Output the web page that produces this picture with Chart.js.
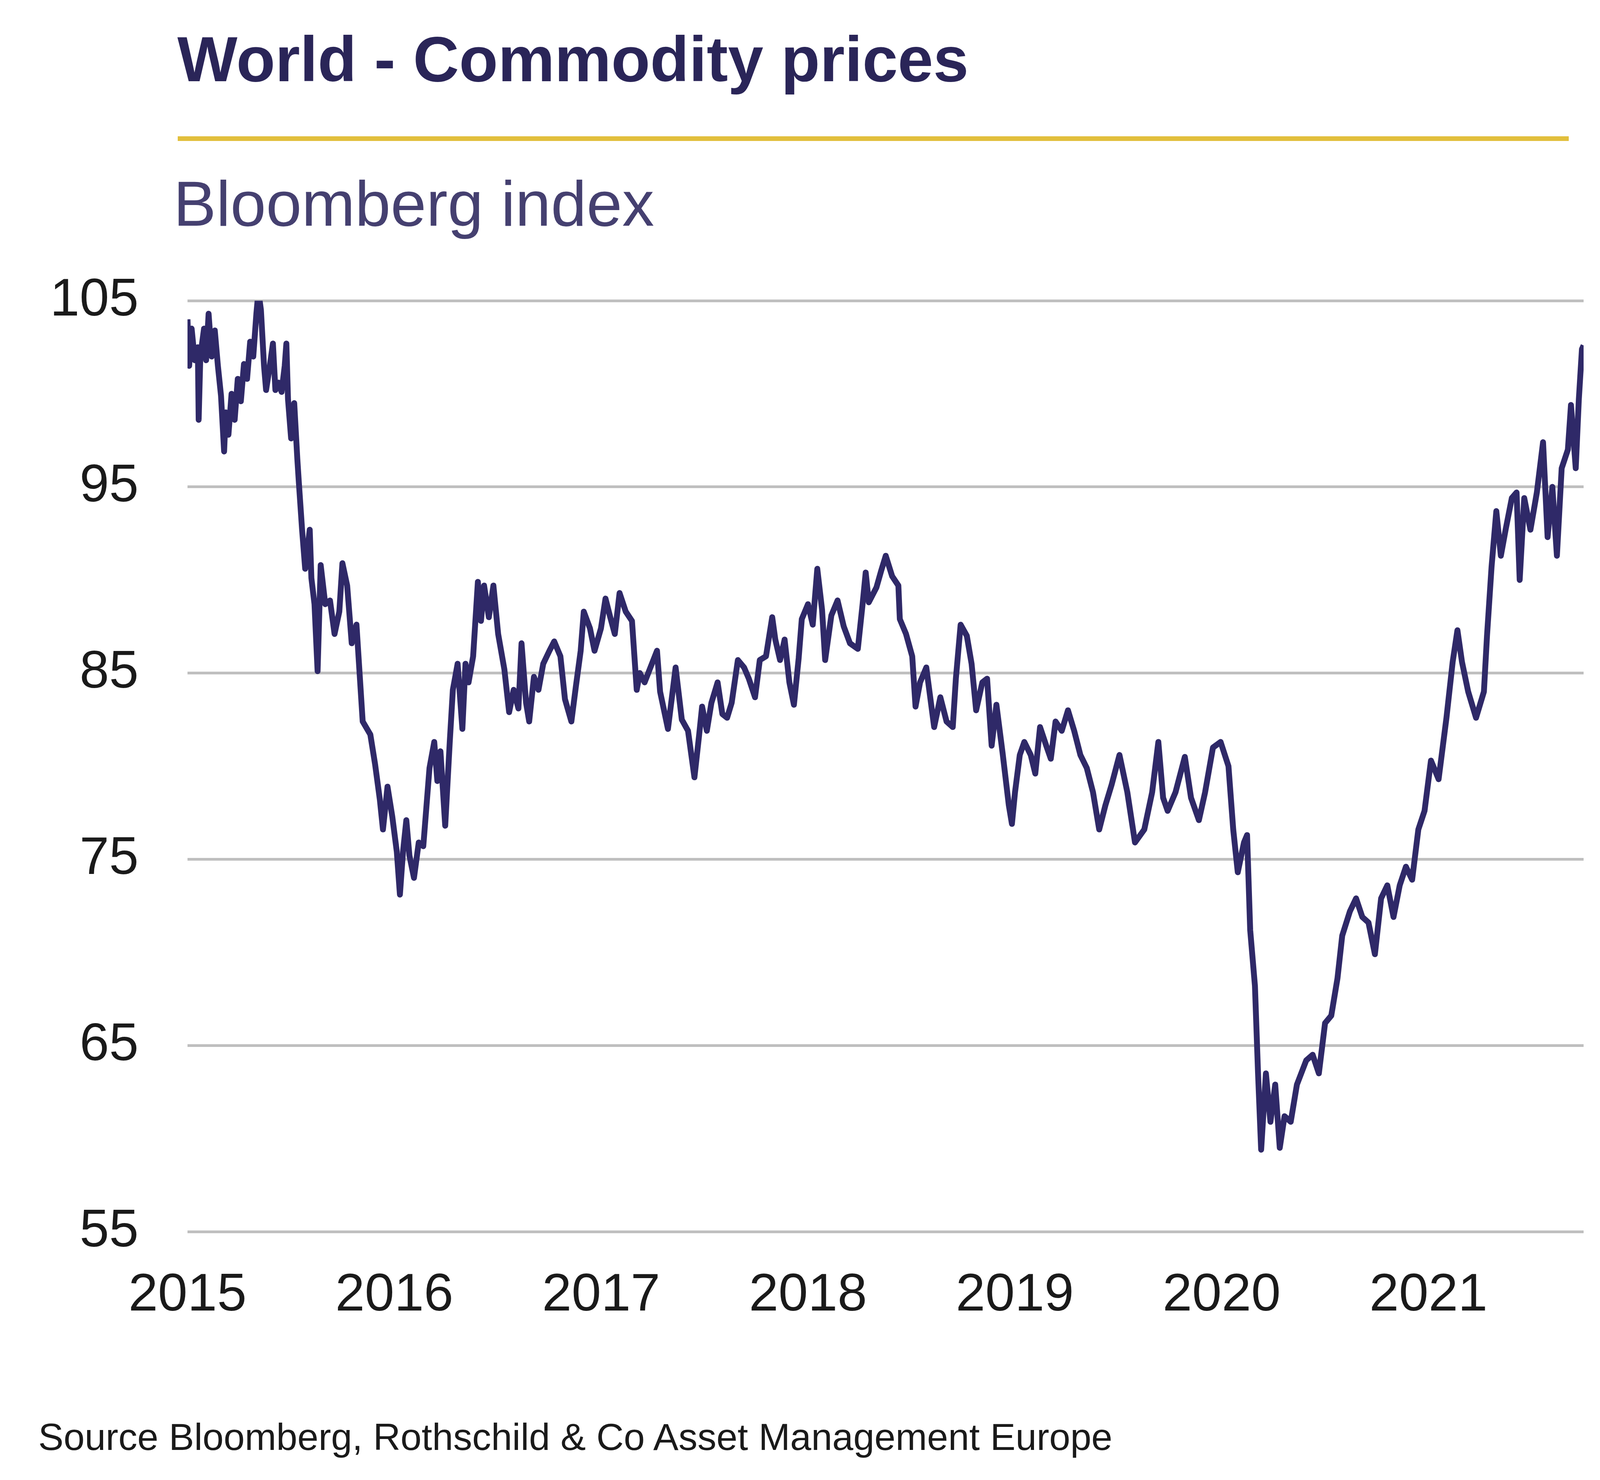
<!DOCTYPE html>
<html>
<head>
<meta charset="utf-8">
<title>World - Commodity prices</title>
<script src="https://cdn.jsdelivr.net/npm/chart.js@4.4.1/dist/chart.umd.min.js"></script>
<style>
  html, body { margin: 0; padding: 0; background: #ffffff; }
  body { width: 4224px; height: 3790px; position: relative; overflow: hidden; font-family: 'Liberation Sans', Arial, sans-serif; }
  #wrap { position: absolute; left: 0; top: 0; width: 4224px; height: 3790px; }
  #title { position: absolute; left: 454px; top: 70px; font-size: 163px; line-height: 163px; font-weight: bold; color: #2a2558; white-space: nowrap; }
  #rule { position: absolute; left: 455px; top: 349px; width: 3561px; height: 12px; background: #e2bf3c; }
  #subtitle { position: absolute; left: 444px; top: 440px; font-size: 164px; line-height: 164px; color: #454070; white-space: nowrap; }
  #source { position: absolute; left: 98px; top: 3631px; font-size: 97px; line-height: 97px; color: #1a1a1a; white-space: nowrap; }
</style>
</head>
<body>
<div id="wrap"><canvas id="commodityChart"></canvas></div>
<div id="title">World - Commodity prices</div>
<div id="rule"></div>
<div id="subtitle">Bloomberg index</div>
<div id="source">Source Bloomberg, Rothschild &amp; Co Asset Management Europe</div>

<script>
// dates as decimal years
const dates = [
    2015.000, 2015.008, 2015.020, 2015.035, 2015.050, 2015.054, 2015.062, 2015.080, 2015.090, 2015.102,
    2015.117, 2015.132, 2015.147, 2015.162, 2015.177, 2015.185, 2015.198, 2015.213, 2015.228, 2015.243,
    2015.258, 2015.273, 2015.288, 2015.303, 2015.318, 2015.333, 2015.343, 2015.355, 2015.370, 2015.380,
    2015.398, 2015.413, 2015.425, 2015.440, 2015.455, 2015.470, 2015.478, 2015.486, 2015.501, 2015.516,
    2015.531, 2015.538, 2015.554, 2015.569, 2015.591, 2015.599, 2015.614, 2015.629, 2015.644, 2015.666,
    2015.689, 2015.711, 2015.734, 2015.749, 2015.772, 2015.794, 2015.817, 2015.832, 2015.847, 2015.884,
    2015.907, 2015.930, 2015.945, 2015.967, 2015.990, 2016.012, 2016.027, 2016.042, 2016.058, 2016.073,
    2016.095, 2016.118, 2016.140, 2016.155, 2016.170, 2016.193, 2016.208, 2016.223, 2016.246, 2016.268,
    2016.283, 2016.306, 2016.329, 2016.344, 2016.359, 2016.381, 2016.404, 2016.419, 2016.434, 2016.457,
    2016.479, 2016.502, 2016.532, 2016.555, 2016.577, 2016.600, 2016.615, 2016.637, 2016.652, 2016.675,
    2016.697, 2016.720, 2016.750, 2016.773, 2016.803, 2016.825, 2016.856, 2016.878, 2016.901, 2016.916,
    2016.946, 2016.968, 2016.999, 2017.021, 2017.044, 2017.066, 2017.089, 2017.119, 2017.149, 2017.172,
    2017.187, 2017.210, 2017.270, 2017.285, 2017.323, 2017.360, 2017.390, 2017.420, 2017.451, 2017.473,
    2017.488, 2017.511, 2017.533, 2017.563, 2017.586, 2017.609, 2017.631, 2017.661, 2017.691, 2017.714,
    2017.744, 2017.767, 2017.797, 2017.827, 2017.842, 2017.865, 2017.887, 2017.910, 2017.932, 2017.955,
    2017.970, 2018.000, 2018.023, 2018.045, 2018.068, 2018.083, 2018.113, 2018.143, 2018.173, 2018.203,
    2018.241, 2018.264, 2018.279, 2018.294, 2018.331, 2018.354, 2018.376, 2018.407, 2018.437, 2018.444,
    2018.474, 2018.504, 2018.520, 2018.542, 2018.572, 2018.610, 2018.640, 2018.670, 2018.700, 2018.715,
    2018.738, 2018.768, 2018.791, 2018.813, 2018.843, 2018.866, 2018.888, 2018.911, 2018.941, 2018.971,
    2018.986, 2019.001, 2019.024, 2019.046, 2019.077, 2019.099, 2019.122, 2019.152, 2019.174, 2019.197,
    2019.227, 2019.257, 2019.287, 2019.317, 2019.348, 2019.378, 2019.408, 2019.438, 2019.468, 2019.506,
    2019.544, 2019.581, 2019.626, 2019.664, 2019.694, 2019.717, 2019.739, 2019.777, 2019.822, 2019.852,
    2019.890, 2019.920, 2019.958, 2019.995, 2020.033, 2020.056, 2020.078, 2020.108, 2020.123, 2020.138,
    2020.161, 2020.176, 2020.191, 2020.214, 2020.236, 2020.259, 2020.281, 2020.304, 2020.334, 2020.364,
    2020.409, 2020.440, 2020.470, 2020.500, 2020.530, 2020.560, 2020.583, 2020.620, 2020.650, 2020.680,
    2020.710, 2020.741, 2020.771, 2020.801, 2020.831, 2020.861, 2020.891, 2020.921, 2020.951, 2020.981,
    2021.012, 2021.049, 2021.087, 2021.117, 2021.140, 2021.162, 2021.192, 2021.230, 2021.268, 2021.283,
    2021.305, 2021.328, 2021.350, 2021.373, 2021.403, 2021.426, 2021.441, 2021.463, 2021.493, 2021.524,
    2021.554, 2021.576, 2021.599, 2021.621, 2021.644, 2021.674, 2021.689, 2021.712, 2021.727, 2021.742,
    2021.750
];

// Bloomberg commodity index
const values = [
    104.0, 101.5, 103.5, 101.8, 102.5, 98.6, 102.0, 103.5, 101.8, 104.3,
    102.0, 103.4, 101.5, 99.9, 96.9, 99.0, 97.8, 100.0, 98.6, 100.8,
    99.6, 101.6, 100.8, 102.8, 102.0, 104.3, 105.5, 104.5, 101.5, 100.2,
    101.5, 102.7, 100.2, 100.6, 100.1, 101.5, 102.7, 99.7, 97.6, 99.5,
    96.5, 95.3, 92.7, 90.6, 92.7, 90.1, 88.7, 85.1, 90.8, 88.7,
    88.9, 87.1, 88.3, 90.9, 89.7, 86.6, 87.6, 85.0, 82.4, 81.7,
    80.1, 78.2, 76.6, 78.9, 77.3, 75.4, 73.1, 75.4, 77.1, 75.2,
    74.0, 75.9, 75.7, 77.8, 79.9, 81.3, 79.2, 80.8, 76.8, 81.3,
    84.1, 85.5, 82.0, 85.5, 84.5, 85.9, 89.9, 87.8, 89.7, 88.0,
    89.7, 87.1, 85.2, 82.9, 84.1, 83.1, 86.6, 83.4, 82.4, 84.8,
    84.1, 85.5, 86.2, 86.7, 85.9, 83.6, 82.4, 84.3, 86.2, 88.3,
    87.4, 86.2, 87.4, 89.0, 88.0, 87.1, 89.3, 88.3, 87.8, 84.1,
    85.0, 84.5, 86.2, 84.0, 82.0, 85.3, 82.5, 81.9, 79.4, 81.6,
    83.2, 81.9, 83.4, 84.5, 82.8, 82.6, 83.4, 85.7, 85.3, 84.7,
    83.7, 85.7, 85.9, 88.0, 86.8, 85.7, 86.8, 84.5, 83.3, 85.8,
    87.9, 88.7, 87.6, 90.6, 88.4, 85.7, 88.1, 88.9, 87.5, 86.6,
    86.3, 88.7, 90.4, 88.8, 89.6, 90.5, 91.3, 90.2, 89.7, 87.9,
    87.1, 85.9, 83.2, 84.5, 85.3, 82.1, 83.7, 82.4, 82.1, 84.7,
    87.6, 87.0, 85.5, 83.0, 84.5, 84.7, 81.1, 83.3, 80.7, 77.9,
    76.9, 78.6, 80.6, 81.3, 80.6, 79.6, 82.1, 81.1, 80.4, 82.4,
    81.9, 83.0, 81.9, 80.6, 79.9, 78.6, 76.6, 77.9, 79.0, 80.6,
    78.6, 75.9, 76.6, 78.6, 81.3, 78.3, 77.6, 78.6, 80.5, 78.3,
    77.1, 78.6, 81.0, 81.3, 80.0, 76.6, 74.3, 75.9, 76.3, 71.2,
    68.2, 63.5, 59.4, 63.5, 60.9, 62.9, 59.5, 61.2, 60.9, 62.9,
    64.2, 64.5, 63.5, 66.2, 66.6, 68.6, 70.9, 72.2, 72.9, 71.9,
    71.6, 69.9, 72.9, 73.6, 71.9, 73.6, 74.6, 73.9, 76.6, 77.6,
    80.3, 79.3, 82.6, 85.6, 87.3, 85.6, 84.0, 82.6, 84.0, 87.0,
    90.7, 93.7, 91.3, 92.7, 94.4, 94.7, 90.0, 94.4, 92.7, 94.7,
    97.4, 92.3, 95.0, 91.3, 96.0, 97.0, 99.4, 96.0, 99.7, 102.4,
    102.6
];

// axis ticks
const yearTicks = [2015, 2016, 2017, 2018, 2019, 2020, 2021];
const valueTicks = [55, 65, 75, 85, 95, 105];

const points = dates.map(function (d, i) {
    return { x: d, y: values[i] };
});

Chart.defaults.font.family = "'Liberation Sans', Arial, sans-serif";
Chart.defaults.color = '#1a1a1a';

var ctx = document.getElementById('commodityChart');

new Chart(ctx, {
    type: 'line',
    data: {
        datasets: [{
            data: points,
            borderColor: '#2f2968',
            borderWidth: 15,
            borderJoinStyle: 'round',
            pointRadius: 0,
            tension: 0,
            fill: false
        }]
    },
    options: {
        responsive: true,
        maintainAspectRatio: false,
        devicePixelRatio: 1,
        animation: false,
        layout: {
            padding: { top: 770, right: 170, bottom: 336, left: 0 }
        },
        plugins: {
            legend: { display: false },
            tooltip: { enabled: false }
        },
        scales: {
            x: {
                type: 'linear',
                min: 2015,
                max: 2021.75,
                afterBuildTicks: function (scale) {
                    scale.ticks = yearTicks.map(function (v) { return { value: v }; });
                },
                afterFit: function (scale) {
                    scale.height = 300;
                },
                grid: { display: false, drawTicks: false },
                border: { display: false },
                ticks: {
                    autoSkip: false,
                    maxRotation: 0,
                    padding: 83,
                    font: { size: 136 },
                    callback: function (v) { return String(v); }
                }
            },
            y: {
                min: 55,
                max: 105,
                afterBuildTicks: function (scale) {
                    scale.ticks = valueTicks.map(function (v) { return { value: v }; });
                },
                afterFit: function (scale) {
                    scale.width = 480;
                },
                grid: { color: '#bfbfbf', lineWidth: 7, drawTicks: false },
                border: { display: false },
                ticks: {
                    padding: 125,
                    font: { size: 136 },
                    callback: function (v) { return String(v); }
                }
            }
        }
    }
});
</script>
</body>
</html>
